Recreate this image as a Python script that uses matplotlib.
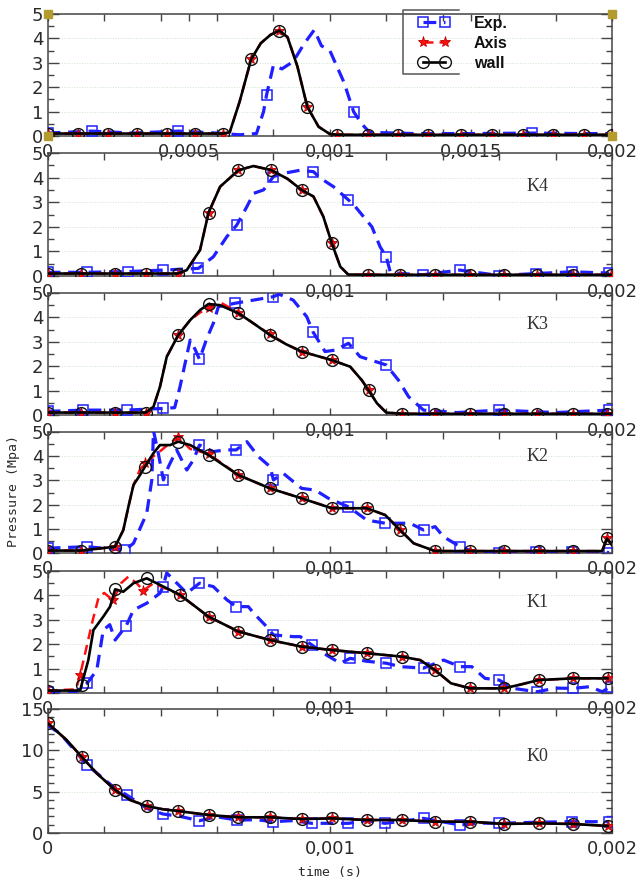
import numpy as np
import matplotlib
matplotlib.use('Agg')
import matplotlib.pyplot as plt
from matplotlib.lines import Line2D
from matplotlib.ticker import MultipleLocator

# time axis in ms (labels are written in seconds), pressure in MPa

# ---- top panel (no name) ----
k5_wall_t = [0, 0.106, 0.214, 0.317, 0.423, 0.523, 0.622, 0.645, 0.68, 0.721, 0.755, 0.79, 0.821, 0.85,
             0.885, 0.92, 0.96, 1.0, 1.025, 1.135, 1.241, 1.349, 1.465, 1.574, 1.684, 1.792, 1.902, 2.0]
k5_wall_p = [0.1, 0.1, 0.1, 0.1, 0.1, 0.1, 0.1, 0.15, 1.4, 3.14, 3.8, 4.15, 4.32, 4.05,
             2.85, 1.2, 0.38, 0.08, 0.05, 0.05, 0.05, 0.05, 0.05, 0.05, 0.05, 0.05, 0.05, 0.05]
k5_wall_mk = [0, 1, 2, 3, 4, 5, 6, 9, 12, 15, 18, 19, 20, 21, 22, 23, 24, 25, 26, 27]
k5_exp_t = [0, 0.156, 0.3, 0.463, 0.6, 0.68, 0.74, 0.765, 0.776, 0.8, 0.83, 0.87, 0.91, 0.945,
            0.97, 1.0, 1.05, 1.084, 1.113, 1.14, 1.3, 1.5, 1.716, 1.9, 2.0]
k5_exp_p = [0.12, 0.2, 0.12, 0.2, 0.12, 0.05, 0.1, 1.0, 1.7, 2.9, 2.75, 3.05, 3.8, 4.35,
            3.7, 3.5, 2.2, 1.0, 0.5, 0.15, 0.1, 0.1, 0.12, 0.1, 0.1]
k5_exp_mk = [0, 1, 3, 8, 17, 22]

# ---- K4 ----
k4_wall_t = [0, 0.118, 0.239, 0.348, 0.461, 0.493, 0.54, 0.57, 0.611, 0.676, 0.729, 0.791, 0.85, 0.9,
             0.942, 0.977, 1.007, 1.037, 1.065, 1.136, 1.249, 1.373, 1.497, 1.618, 1.735, 1.862, 1.995]
k4_wall_p = [0.1, 0.1, 0.1, 0.1, 0.1, 0.24, 1.06, 2.57, 3.63, 4.3, 4.47, 4.31, 3.95, 3.5,
             3.23, 2.41, 1.33, 0.38, 0.06, 0.05, 0.05, 0.05, 0.05, 0.05, 0.05, 0.05, 0.05]
k4_wall_mk = [0, 1, 2, 3, 4, 7, 9, 11, 13, 16, 19, 20, 21, 22, 23, 24, 25, 26]
k4_exp_t = [0, 0.14, 0.286, 0.41, 0.534, 0.587, 0.635, 0.67, 0.706, 0.73, 0.765, 0.8, 0.835, 0.895,
            0.942, 0.966, 1.013, 1.066, 1.09, 1.149, 1.178, 1.2, 1.214, 1.25, 1.33, 1.46, 1.6,
            1.73, 1.858, 1.99]
k4_exp_p = [0.15, 0.15, 0.18, 0.24, 0.31, 0.78, 1.6, 2.07, 2.82, 3.36, 3.5, 4.04, 4.17, 4.3,
            4.24, 3.98, 3.63, 3.09, 2.82, 2.0, 1.19, 0.78, 0.17, 0.1, 0.05, 0.24, 0.02,
            0.1, 0.17, 0.12]
k4_exp_mk = [0, 1, 2, 3, 4, 7, 11, 14, 17, 21, 24, 25, 26, 27, 28, 29]

# ---- K3 ----
k3_wall_t = [0, 0.118, 0.239, 0.348, 0.375, 0.398, 0.422, 0.463, 0.505, 0.54, 0.57, 0.611, 0.676,
             0.73, 0.788, 0.845, 0.9, 1.007, 1.072, 1.113, 1.137, 1.167, 1.2, 1.255, 1.373, 1.497,
             1.618, 1.735, 1.862, 1.984, 2.0]
k3_wall_p = [0.1, 0.1, 0.1, 0.1, 0.34, 1.16, 2.39, 3.28, 3.89, 4.3, 4.55, 4.5, 4.17,
             3.75, 3.28, 2.9, 2.6, 2.25, 1.98, 1.43, 1.02, 0.48, 0.1, 0.05, 0.05, 0.05,
             0.05, 0.05, 0.05, 0.05, 0.05]
k3_axis_p = [0.1, 0.1, 0.1, 0.1, 0.34, 1.16, 2.39, 3.28, 3.89, 4.2, 4.4, 4.62, 4.2,
             3.75, 3.3, 2.9, 2.6, 2.25, 1.98, 1.43, 1.02, 0.48, 0.1, 0.05, 0.05, 0.05,
             0.05, 0.05, 0.05, 0.05, 0.05]
k3_wall_mk = [0, 1, 2, 3, 7, 10, 12, 14, 16, 17, 20, 23, 24, 25, 26, 27, 28, 29]
k3_exp_t = [0, 0.126, 0.28, 0.41, 0.45, 0.469, 0.487, 0.505, 0.522, 0.538, 0.564, 0.587, 0.605,
            0.664, 0.73, 0.8, 0.82, 0.87, 0.918, 0.94, 0.983, 1.019, 1.066, 1.107, 1.2, 1.243,
            1.279, 1.332, 1.45, 1.6, 1.8, 1.99]
k3_exp_p = [0.15, 0.2, 0.2, 0.27, 0.3, 1.16, 2.12, 3.07, 2.7, 2.28, 3.14, 3.76, 4.44,
            4.58, 4.71, 4.85, 4.95, 4.71, 4.03, 3.41, 2.6, 2.66, 2.94, 2.39, 2.05, 1.43,
            0.75, 0.2, 0.1, 0.2, 0.1, 0.2]
k3_exp_mk = [0, 1, 2, 3, 9, 13, 15, 19, 22, 24, 27, 29, 31]

# ---- K2 ----
k2_wall_t = [0, 0.118, 0.239, 0.268, 0.286, 0.304, 0.327, 0.345, 0.375, 0.398, 0.434, 0.463, 0.505,
             0.57, 0.676, 0.788, 0.9, 1.007, 1.131, 1.196, 1.249, 1.297, 1.373, 1.497, 1.616,
             1.74, 1.862, 1.965, 1.982, 2.0]
k2_wall_p = [0.1, 0.1, 0.26, 0.95, 1.91, 2.81, 3.22, 3.57, 4.13, 4.46, 4.46, 4.6, 4.46,
             4.05, 3.22, 2.67, 2.26, 1.85, 1.85, 1.57, 0.95, 0.4, 0.08, 0.08, 0.08,
             0.08, 0.08, 0.08, 0.6, 0.33]
k2_axis_p = [0.1, 0.1, 0.26, 0.95, 1.91, 2.81, 3.45, 3.7, 4.0, 4.2, 4.55, 4.78, 4.3,
             4.1, 3.22, 2.67, 2.26, 1.85, 1.85, 1.57, 0.95, 0.4, 0.08, 0.08, 0.08,
             0.08, 0.08, 0.08, 0.6, 0.33]
k2_wall_mk = [0, 1, 2, 7, 11, 13, 14, 15, 16, 17, 18, 20, 22, 23, 24, 25, 26, 28]
k2_exp_t = [0, 0.138, 0.274, 0.304, 0.351, 0.369, 0.375, 0.392, 0.41, 0.428, 0.457, 0.493, 0.516,
            0.538, 0.587, 0.629, 0.668, 0.706, 0.747, 0.788, 0.8, 0.835, 0.9, 0.948, 0.995,
            1.066, 1.131, 1.196, 1.284, 1.332, 1.373, 1.403, 1.462, 1.509, 1.6, 1.73, 1.86, 1.99]
k2_exp_p = [0.2, 0.26, 0.12, 0.4, 1.64, 3.02, 5.05, 4.12, 3.02, 3.57, 4.26, 3.43, 3.84,
            4.46, 4.19, 4.26, 4.26, 4.6, 3.98, 3.57, 3.02, 3.29, 2.67, 2.6, 2.26,
            1.91, 1.36, 1.23, 1.23, 0.95, 1.09, 0.67, 0.26, 0.05, 0.02, 0.05, 0.05, 0.02]
k2_exp_mk = [0, 1, 2, 8, 13, 16, 20, 25, 27, 29, 32, 34, 35, 36, 37]

# ---- K1 ----
k1_wall_t = [0, 0.115, 0.12, 0.144, 0.162, 0.197, 0.221, 0.239, 0.268, 0.304, 0.351, 0.386, 0.469,
             0.57, 0.676, 0.788, 0.9, 1.007, 1.131, 1.255, 1.32, 1.373, 1.429, 1.497, 1.616,
             1.67, 1.74, 1.862, 1.985]
k1_wall_p = [0.1, 0.1, 0.33, 1.35, 2.58, 3.13, 3.54, 4.25, 4.15, 4.5, 4.7, 4.5, 4.02,
             3.13, 2.52, 2.17, 1.9, 1.76, 1.63, 1.49, 1.35, 0.94, 0.4, 0.19, 0.19,
             0.33, 0.53, 0.6, 0.6]
k1_wall_mk = [0, 2, 7, 10, 12, 13, 14, 15, 16, 17, 18, 19, 21, 23, 24, 26, 27, 28]
k1_axis_t = [0, 0.1, 0.115, 0.14, 0.16, 0.18, 0.2, 0.232, 0.26, 0.286, 0.315, 0.339, 0.375, 0.469,
             0.57, 0.676, 0.788, 0.9, 1.007, 1.131, 1.255, 1.32, 1.373, 1.429, 1.497, 1.616,
             1.67, 1.74, 1.862, 1.985]
k1_axis_p = [0.1, 0.15, 0.74, 2.0, 3.0, 3.9, 4.1, 3.8, 4.5, 4.77, 4.5, 4.2, 4.5, 4.02,
             3.13, 2.52, 2.17, 1.9, 1.76, 1.63, 1.49, 1.35, 0.94, 0.4, 0.19, 0.19,
             0.33, 0.53, 0.6, 0.6]
k1_axis_mk = [0, 2, 7, 11, 13, 14, 15, 16, 17, 18, 19, 20, 22, 24, 25, 27, 28, 29]
k1_exp_t = [0, 0.1, 0.14, 0.174, 0.197, 0.22, 0.239, 0.278, 0.304, 0.351, 0.398, 0.408, 0.422,
            0.446, 0.493, 0.538, 0.587, 0.635, 0.668, 0.711, 0.73, 0.776, 0.8, 0.871, 0.895,
            0.936, 0.977, 1.037, 1.072, 1.131, 1.2, 1.25, 1.332, 1.403, 1.462, 1.503, 1.55,
            1.6, 1.65, 1.734, 1.8, 1.862, 1.923, 1.965, 1.995]
k1_exp_p = [0.05, 0.05, 0.4, 0.94, 2.58, 2.8, 2.17, 2.75, 3.4, 3.68, 4.09, 4.34, 4.92,
            4.64, 4.09, 4.5, 4.36, 3.82, 3.54, 3.54, 3.27, 2.72, 2.38, 2.31, 2.31,
            1.97, 1.63, 1.22, 1.42, 1.3, 1.22, 1.08, 1.02, 1.35, 1.08, 1.08, 0.6,
            0.53, 0.19, 0.05, 0.2, 0.19, 0.26, 0.05, 0.26]
k1_exp_mk = [0, 2, 7, 11, 15, 18, 22, 25, 28, 30, 32, 34, 37, 39, 41, 44]

# ---- K0 ----
k0_wall_t = [0, 0.067, 0.12, 0.174, 0.239, 0.292, 0.351, 0.41, 0.461, 0.57, 0.676, 0.788, 0.9,
             1.007, 1.131, 1.255, 1.373, 1.497, 1.616, 1.74, 1.862, 1.985]
k0_wall_p = [13.3, 11.25, 9.23, 7.22, 5.2, 3.99, 3.26, 2.86, 2.66, 2.18, 1.9, 1.9, 1.69,
             1.77, 1.57, 1.57, 1.37, 1.37, 1.09, 1.17, 1.09, 0.85]
k0_wall_mk = [0, 2, 4, 6, 8, 9, 10, 11, 12, 13, 14, 15, 16, 17, 18, 19, 20, 21]
k0_exp_t = [0, 0.044, 0.14, 0.239, 0.28, 0.351, 0.408, 0.47, 0.538, 0.599, 0.67, 0.74, 0.8,
            0.87, 0.936, 1.066, 1.13, 1.196, 1.332, 1.462, 1.53, 1.6, 1.73, 1.858, 1.99]
k0_exp_p = [13.0, 12.05, 8.22, 5.4, 4.6, 2.98, 2.3, 2.0, 1.49, 1.97, 1.57, 1.6, 1.37,
            1.5, 1.17, 1.17, 1.5, 1.17, 1.77, 0.97, 1.2, 1.17, 1.3, 1.37, 1.37]
k0_exp_mk = [2, 4, 6, 8, 10, 12, 14, 15, 17, 18, 19, 21, 23, 24]

top_xticks = [0, 0.5, 1.0, 1.5, 2.0]
top_xlabels = ['0', '0,0005', '0,001', '0,0015', '0,002']
other_xticks = [0, 1.0, 2.0]
other_xlabels = ['0', '0,001', '0,002']

panels = [
    # name, exp (t, p, mk), axis (t, p, mk), wall (t, p, mk), ymax, name y-position
    ('', (k5_exp_t, k5_exp_p, k5_exp_mk), (k5_wall_t, k5_wall_p, k5_wall_mk),
     (k5_wall_t, k5_wall_p, k5_wall_mk), 5, 0.73),
    ('K4', (k4_exp_t, k4_exp_p, k4_exp_mk), (k4_wall_t, k4_wall_p, k4_wall_mk),
     (k4_wall_t, k4_wall_p, k4_wall_mk), 5, 0.73),
    ('K3', (k3_exp_t, k3_exp_p, k3_exp_mk), (k3_wall_t, k3_axis_p, k3_wall_mk),
     (k3_wall_t, k3_wall_p, k3_wall_mk), 5, 0.74),
    ('K2', (k2_exp_t, k2_exp_p, k2_exp_mk), (k2_wall_t, k2_axis_p, k2_wall_mk),
     (k2_wall_t, k2_wall_p, k2_wall_mk), 5, 0.80),
    ('K1', (k1_exp_t, k1_exp_p, k1_exp_mk), (k1_axis_t, k1_axis_p, k1_axis_mk),
     (k1_wall_t, k1_wall_p, k1_wall_mk), 5, 0.74),
    ('K0', (k0_exp_t, k0_exp_p, k0_exp_mk), (k0_wall_t, k0_wall_p, k0_wall_mk),
     (k0_wall_t, k0_wall_p, k0_wall_mk), 15, 0.62),
]

W, H = 643, 880
# panel top/bottom edges in pixels
edges = [(14, 136), (153, 276), (293, 415), (432, 553), (571, 693), (709, 833)]
left_px, right_px = 47.7, 612

BLUE = '#1f1fff'
RED = '#ff1010'
TXT = '#2a2a2a'

exp_style = dict(color=BLUE, lw=2.3, ls=(0, (4, 2.4)), marker='s', ms=6.5, mfc='none',
                 mec=BLUE, mew=1.1)
axis_style = dict(color=RED, lw=1.8, ls=(0, (4, 2.4)), marker='*', ms=8, mfc=RED,
                  mec='#c00000', mew=0.6)
wall_style = dict(color='black', lw=1.9, ls='-', marker='o', ms=8.5, mfc='none',
                  mec='#111111', mew=1.0)

fig = plt.figure(figsize=(W / 100, H / 100), dpi=100)

axes = []
for i, (name, exp, axs, wall, ymax, name_y) in enumerate(panels):
    top, bot = edges[i]
    ax = fig.add_axes([left_px / W, 1 - bot / H, (right_px - left_px) / W, (bot - top) / H])
    ax.set_facecolor('none')
    axes.append(ax)

    ax.grid(True, which='major', axis='y', ls=':', lw=0.7, color='#cfe5cf')

    ax.plot(exp[0], exp[1], markevery=exp[2], zorder=3, **exp_style)
    ax.plot(axs[0], axs[1], markevery=axs[2], zorder=4, **axis_style)
    ax.plot(wall[0], wall[1], markevery=wall[2], zorder=5, **wall_style)

    ax.set_xlim(0, 2.0)
    ax.set_ylim(0, ymax)

    if i == 0:
        ax.set_xticks(top_xticks)
        ax.set_xticklabels(top_xlabels)
    else:
        ax.set_xticks(other_xticks)
        ax.set_xticklabels(other_xlabels)
    ax.xaxis.set_minor_locator(MultipleLocator(0.2))

    if ymax == 15:
        ax.yaxis.set_major_locator(MultipleLocator(5))
        ax.yaxis.set_minor_locator(MultipleLocator(1))
    else:
        ax.yaxis.set_major_locator(MultipleLocator(1))
        ax.yaxis.set_minor_locator(MultipleLocator(0.5))

    ax.tick_params(axis='x', which='both', direction='in', top=True, bottom=True,
                   length=5, width=1, color='#444444', labelsize=13, labelcolor=TXT, pad=5)
    ax.tick_params(axis='y', which='major', direction='in', left=True, right=True,
                   length=8, width=1, color='#444444', labelsize=13, labelcolor=TXT, pad=3)
    ax.tick_params(axis='y', which='minor', direction='in', left=True, right=True,
                   length=4, width=1, color='#444444')
    for sp in ax.spines.values():
        sp.set_color('#444444')
        sp.set_linewidth(1.1)

    if name:
        ax.text(0.868, name_y, name, transform=ax.transAxes, ha='center', va='center',
                fontsize=13, family='Liberation Serif', color='#333333')

# little selection handles in the corners of the first panel
axes[0].plot([0, 0, 1, 1], [0, 1, 0, 1], 's', transform=axes[0].transAxes, clip_on=False,
             color='#b39b2e', ms=6, zorder=6)

# legend
handles = [Line2D([], [], **exp_style), Line2D([], [], **axis_style),
           Line2D([], [], **wall_style)]
leg = fig.legend(handles, ['Exp.', 'Axis', 'wall'], loc='upper left',
                 bbox_to_anchor=(418 / W, 1 - 16 / H), frameon=False, numpoints=2,
                 handlelength=2.0, handletextpad=1.5, labelspacing=0.3, borderpad=0,
                 borderaxespad=0, prop=dict(family='Liberation Sans', weight='bold', size=11.5))
for txt in leg.get_texts():
    txt.set_color('#111111')
fig.add_artist(Line2D([459 / W, 403 / W, 403 / W, 459 / W],
                      [1 - 10 / H, 1 - 10 / H, 1 - 74 / H, 1 - 74 / H],
                      transform=fig.transFigure, color='#555555', lw=1.1))

fig.text(14 / W, 1 - 491 / H, 'Pressure (Mpa)', rotation=90, ha='center', va='center',
         family='DejaVu Sans Mono', fontsize=9.5, color=TXT)
fig.text(330 / W, 1 - 872 / H, 'time (s)', ha='center', va='center',
         family='DejaVu Sans Mono', fontsize=9.5, color=TXT)

fig.savefig('out.png', dpi=100, facecolor='white')
